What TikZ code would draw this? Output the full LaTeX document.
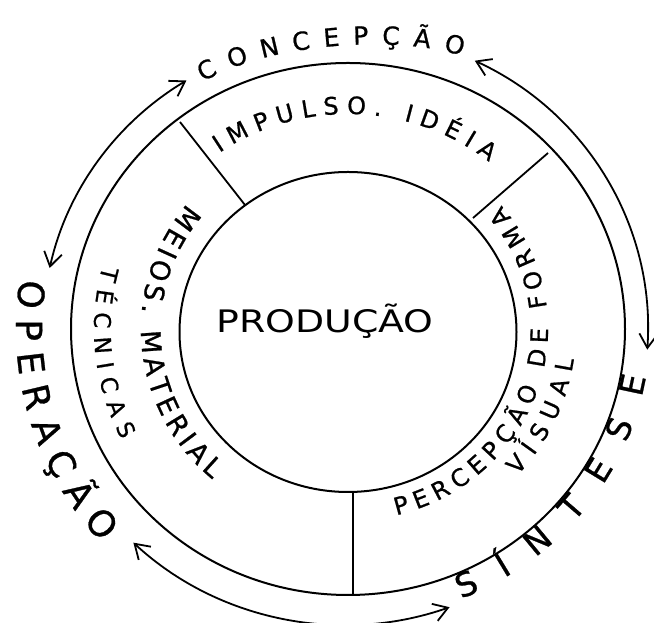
\documentclass[tikz,border=0pt]{standalone}
\usepackage{fontspec}
\usepackage{graphicx}
\setmainfont{DejaVu Sans}
\usetikzlibrary{arrows.meta,decorations.text}
\begin{document}
\begin{tikzpicture}[x=1pt,y=1pt,
  ring/.style={line width=2pt},
  divider/.style={line width=1.8pt},
  cyc/.style={line width=1.8pt,
    {Straight Barb[length=14pt,width=18pt,line width=1.8pt]}-{Straight Barb[length=14pt,width=18pt,line width=1.8pt]}},
  arclabel/.style n args={2}{decorate,decoration={text along path,
    text align=fit to path,text={|\fontsize{#1}{#1}\selectfont\addfontfeature{FakeBold=0.8}|#2}}},
]
\useasboundingbox (0,0) rectangle (654,623);
\fill[white] (0,0) rectangle (654,623);
\coordinate (C) at (348,294);
\begin{scope}[shift={(C)}]
  % rings
  \draw[ring] (0,0) ellipse[x radius=277, y radius=266];
  \draw[ring] (0,-3) ellipse[x radius=168.5, y radius=160];
  % dividers
  \coordinate (d1o) at (-168,207);  \coordinate (d1i) at (-103,124);
  \coordinate (d2o) at (200,176);   \coordinate (d2i) at (125,111);
  \coordinate (d3o) at (5,-266);    \coordinate (d3i) at (5,-163);
  \draw[divider] (d1o) -- (d1i);
  \draw[divider] (d2o) -- (d2i);
  \draw[divider] (d3o) -- (d3i);
  % cycle arrows
  \draw[cyc] (168:305 and 293) arc[start angle=168, end angle=122, x radius=305, y radius=293];
  \draw[cyc] (65:300 and 296) arc[start angle=65, end angle=-4, x radius=300, y radius=296];
  \draw[cyc] (226:309 and 297) arc[start angle=226, end angle=290, x radius=305, y radius=293];
  % ring labels
  \path[arclabel={24}{IMPULSO. IDÉIA}] (125:224 and 215) arc[start angle=125, end angle=51, x radius=224, y radius=215];
  \path[arclabel={27}{MEIOS. MATERIAL}] (141:207 and 199) arc[start angle=141, end angle=229, x radius=207, y radius=199];
  \path[arclabel={23}{TÉCNICAS}] (165:254 and 244) arc[start angle=165, end angle=207, x radius=254, y radius=244];
  \path[arclabel={24}{PERCEPÇÃO DE FORMA}] (-76:200 and 192) arc[start angle=-76, end angle=40, x radius=200, y radius=192];
  \path[arclabel={24}{VÍSUAL}] (-42:228 and 219) arc[start angle=-42, end angle=-8, x radius=228, y radius=219];
  % outer labels
  \path[arclabel={36}{OPERAÇÃO}] (171:332 and 319) arc[start angle=171, end angle=222, x radius=332, y radius=319];
  \path[arclabel={33}{SÍNTESE}] (-68:302 and 291) arc[start angle=-68, end angle=-9.5, x radius=302, y radius=291];
\end{scope}
\path[arclabel={25}{CONCEPÇÃO}] (203,541) .. controls (270,581) and (400,588) .. (462,567);
\node[anchor=base,inner sep=0pt,font=\fontsize{31}{31}\selectfont] (prod) at (325,290) {\scalebox{1.22}[1]{PRODUÇÃO}};
\end{tikzpicture}
\end{document}
